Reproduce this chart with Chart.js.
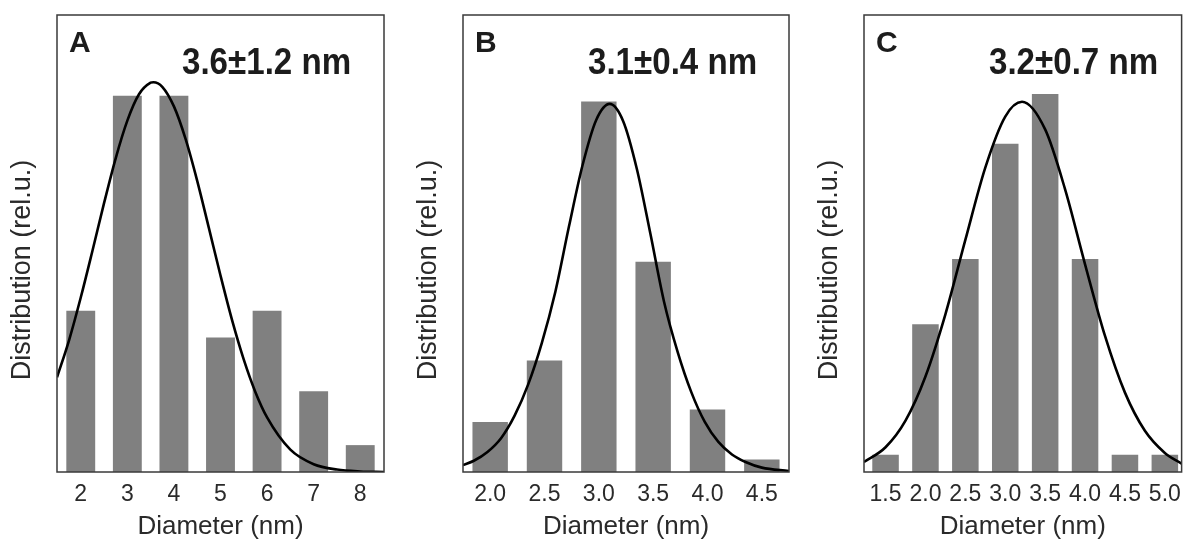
<!DOCTYPE html>
<html>
<head>
<meta charset="utf-8">
<script src="https://cdn.jsdelivr.net/npm/chart.js@4.4.1/dist/chart.umd.min.js"></script>
<style>
  body { margin: 0; background: #fff; width: 1190px; height: 551px; overflow: hidden; position: relative; }
  canvas { position: absolute; top: 0; }
</style>
</head>
<body>
<canvas id="chartA" width="400" height="551" style="left:0px"></canvas>
<canvas id="chartB" width="400" height="551" style="left:400px"></canvas>
<canvas id="chartC" width="390" height="551" style="left:800px"></canvas>
<script>
// ------------------- dados -------------------
// painel A
const diamA = [2, 3, 4, 5, 6, 7, 8];
const distA = [6, 14, 14, 5, 6, 3, 1];
const ajusteXA = [1.49, 1.75, 2.0, 2.25, 2.5, 2.75, 3.0, 3.25, 3.5, 3.56, 3.75, 4.0, 4.25, 4.5, 4.75, 5.0, 5.25, 5.5, 5.75, 6.0, 6.5, 7.0, 7.5, 8.0, 8.51];
const ajusteYA = [3.52, 4.91, 6.49, 8.22, 10.0, 11.67, 13.07, 14.05, 14.48, 14.5, 14.33, 13.6, 12.39, 10.83, 9.08, 7.31, 5.64, 4.18, 2.97, 2.03, 0.83, 0.29, 0.09, 0.02, 0.0];
const ticksA = ['2', '3', '4', '5', '6', '7', '8'];

// painel B
const diamB = [2.0, 2.5, 3.0, 3.5, 4.0, 4.5];
const distB = [4.0, 8.9, 29.6, 16.8, 5.0, 1.0];
const ajusteXB = [1.75, 1.85, 1.975, 2.1, 2.225, 2.35, 2.475, 2.6, 2.725, 2.85, 2.975, 3.1, 3.225, 3.35, 3.475, 3.6, 3.725, 3.85, 3.975, 4.1, 4.225, 4.35, 4.5, 4.75];
const ajusteYB = [0.55, 0.9, 1.6, 2.7, 4.5, 7.0, 10.3, 14.4, 19.6, 24.5, 28.1, 29.4, 28.0, 24.2, 19.0, 13.6, 9.6, 6.4, 4.0, 2.4, 1.4, 0.8, 0.35, 0.08];
const ticksB = ['2.0', '2.5', '3.0', '3.5', '4.0', '4.5'];

// painel C
const diamC = [1.5, 2.0, 2.5, 3.0, 3.5, 4.0, 4.5, 5.0];
const distC = [1, 8.6, 12.4, 19.1, 22, 12.4, 1, 1];
const ajusteXC = [1.23, 1.5, 1.75, 2.0, 2.25, 2.5, 2.75, 3.0, 3.21, 3.5, 3.75, 4.0, 4.25, 4.5, 4.75, 5.0, 5.21];
const ajusteYC = [0.58, 1.44, 2.99, 5.56, 9.18, 13.51, 17.72, 20.69, 21.55, 19.94, 16.45, 12.09, 7.92, 4.62, 2.40, 1.11, 0.48];
const ticksC = ['1.5', '2.0', '2.5', '3.0', '3.5', '4.0', '4.5', '5.0'];

const FONTE = '"Liberation Sans", Arial, Helvetica, sans-serif';

// moldura + textos dentro do gráfico
const textosPlugin = {
  id: 'textos',
  afterDraw(chart, args, opts) {
    const { ctx, chartArea: a } = chart;
    ctx.save();
    ctx.strokeStyle = '#3a3a3a';
    ctx.lineWidth = 1.5;
    ctx.strokeRect(a.left, a.top, a.right - a.left, a.bottom - a.top);

    ctx.fillStyle = '#1c1c1c';
    ctx.textBaseline = 'alphabetic';
    ctx.textAlign = 'left';
    ctx.font = 'bold 30px ' + FONTE;
    ctx.fillText(opts.letra, a.left + 12, 52);

    // valor médio, fonte meio condensada
    ctx.save();
    ctx.translate(a.left + 125, 74);
    ctx.scale(0.92, 1);
    ctx.font = 'bold 36px ' + FONTE;
    ctx.fillText(opts.media, 0, 0);
    ctx.restore();

    // título do eixo y
    ctx.save();
    ctx.translate(a.left - 34, 270);
    ctx.rotate(-Math.PI / 2);
    ctx.textAlign = 'center';
    ctx.textBaseline = 'middle';
    ctx.font = '27px ' + FONTE;
    ctx.fillStyle = '#2a2a2a';
    ctx.fillText('Distribution (rel.u.)', 0, 0);
    ctx.restore();

    ctx.restore();
  }
};

function criarPainel(id, p) {
  const canvas = document.getElementById(id);
  const ctx = canvas.getContext('2d');
  const valoresTicks = p.ticks.map(t => parseFloat(t));

  return new Chart(ctx, {
    type: 'bar',
    data: {
      datasets: [
        {
          type: 'line',
          data: p.ajusteX.map((x, i) => ({ x: x, y: p.ajusteY[i] })),
          borderColor: '#000',
          borderWidth: 2.6,
          pointRadius: 0,
          cubicInterpolationMode: 'monotone',
          fill: false,
          order: 0
        },
        {
          type: 'bar',
          data: p.diam.map((x, i) => ({ x: x, y: p.dist[i] })),
          backgroundColor: '#808080',
          borderWidth: 0,
          categoryPercentage: 1,
          barPercentage: p.larguraBarra,
          order: 1
        }
      ]
    },
    options: {
      responsive: false,
      animation: false,
      layout: { padding: { left: p.esq, right: p.dir, top: 15, bottom: 0 } },
      plugins: {
        legend: { display: false },
        tooltip: { enabled: false },
        textos: { letra: p.letra, media: p.media }
      },
      scales: {
        x: {
          type: 'linear',
          min: p.xmin,
          max: p.xmax,
          offset: false,
          grid: { display: false, offset: false, drawTicks: false },
          border: { display: false },
          afterBuildTicks: (scale) => {
            scale.ticks = valoresTicks.map(v => ({ value: v }));
          },
          afterFit: (scale) => { scale.height = 79; },
          ticks: {
            color: '#2a2a2a',
            padding: 9,
            maxRotation: 0,
            autoSkip: false,
            font: { family: FONTE, size: 23 },
            callback: (v, i) => p.ticks[i]
          },
          title: {
            display: true,
            text: 'Diameter (nm)',
            color: '#2a2a2a',
            font: { family: FONTE, size: 26 },
            padding: { top: 0, bottom: 9 }
          }
        },
        y: {
          display: false,
          min: 0,
          max: p.ymax
        }
      }
    },
    plugins: [textosPlugin]
  });
}

criarPainel('chartA', {
  letra: 'A', media: '3.6\u00b11.2 nm',
  diam: diamA, dist: distA, ajusteX: ajusteXA, ajusteY: ajusteYA, ticks: ticksA,
  xmin: 1.49, xmax: 8.51, ymax: 17, larguraBarra: 0.62, esq: 57, dir: 16
});

criarPainel('chartB', {
  letra: 'B', media: '3.1\u00b10.4 nm',
  diam: diamB, dist: distB, ajusteX: ajusteXB, ajusteY: ajusteYB, ticks: ticksB,
  xmin: 1.75, xmax: 4.75, ymax: 36.5, larguraBarra: 0.652, esq: 63, dir: 11
});

criarPainel('chartC', {
  letra: 'C', media: '3.2\u00b10.7 nm',
  diam: diamC, dist: distC, ajusteX: ajusteXC, ajusteY: ajusteYC, ticks: ticksC,
  xmin: 1.23, xmax: 5.21, ymax: 26.6, larguraBarra: 0.665, esq: 64, dir: 3
});
</script>
</body>
</html>
